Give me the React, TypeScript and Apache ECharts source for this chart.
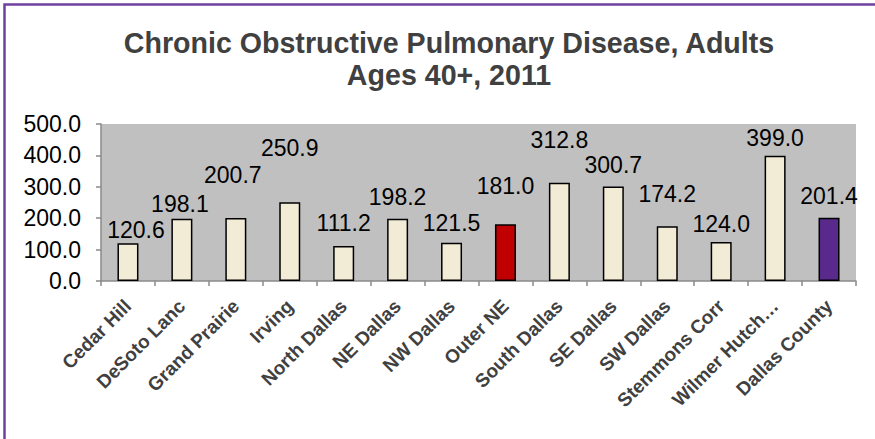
import React, { useEffect, useRef } from "react";
import * as echarts from "echarts";

const titleLines = ["Chronic Obstructive Pulmonary Disease, Adults", "Ages 40+, 2011"];

const categories = [
  "Cedar Hill",
  "DeSoto Lanc",
  "Grand Prairie",
  "Irving",
  "North Dallas",
  "NE Dallas",
  "NW Dallas",
  "Outer NE",
  "South Dallas",
  "SE Dallas",
  "SW Dallas",
  "Stemmons Corr",
  "Wilmer Hutch…",
  "Dallas County",
];

const rates = [120.6, 198.1, 200.7, 250.9, 111.2, 198.2, 121.5, 181.0, 312.8, 300.7, 174.2, 124.0, 399.0, 201.4];

const yTicks = [0, 100, 200, 300, 400, 500];

// label placement as in the reference: centre height above bar top, and sideways shift (px)
const labelRaise = [13, 15, 43, 54, 23, 22, 20, 38, 43, 22, 32, 18, 18, 22];
const labelShift = [8, -2, -3, 0, 0, 0, 0, 0, 0, 0, 0, 0, 0, 0];

const CREAM = "#F2EBD6";
const RED = "#C00000";
const PURPLE = "#59298C";

function barColor(name: string): string {
  if (name === "Outer NE") return RED;
  if (name === "Dallas County") return PURPLE;
  return CREAM;
}

export default function App() {
  const ref = useRef<HTMLDivElement>(null);

  useEffect(() => {
    document.body.style.margin = "0";
    if (!ref.current) return;
    const chart = echarts.init(ref.current, undefined, { renderer: "svg" });
    const LABEL_FONT = 23;

    chart.setOption({
      animation: false,
      backgroundColor: "#FFFFFF",
      title: {
        text: titleLines.join("\n"),
        left: 444,
        textAlign: "center",
        top: 22,
        textStyle: {
          fontFamily: "Liberation Sans, Arial, sans-serif",
          fontSize: 28.6,
          fontWeight: "bold",
          color: "#404040",
          lineHeight: 32,
        },
      },
      grid: {
        left: 101,
        right: 19,
        top: 124,
        bottom: 158,
        show: true,
        backgroundColor: "#C0C0C0",
        borderWidth: 0,
      },
      xAxis: {
        type: "category",
        data: categories,
        boundaryGap: true,
        axisLine: { show: true, lineStyle: { color: "#8A8A8A", width: 1.5 } },
        axisTick: { show: true, alignWithLabel: false, length: 5, lineStyle: { color: "#8A8A8A", width: 1.5 } },
        axisLabel: {
          interval: 0,
          rotate: 45,
          margin: 22,
          fontFamily: "Liberation Sans, Arial, sans-serif",
          fontSize: 19,
          fontWeight: "bold",
          color: "#404040",
        },
        splitLine: { show: false },
      },
      yAxis: {
        type: "value",
        min: yTicks[0],
        max: yTicks[yTicks.length - 1],
        interval: 100,
        axisLine: { show: true, lineStyle: { color: "#8A8A8A", width: 1.5 } },
        axisTick: { show: true, inside: false, length: 5, lineStyle: { color: "#8A8A8A", width: 1.5 } },
        axisLabel: {
          margin: 20,
          fontFamily: "Liberation Sans, Arial, sans-serif",
          fontSize: 23,
          color: "#000000",
          formatter: (v: number) => v.toFixed(1),
        },
        splitLine: { show: false },
      },
      series: [
        {
          type: "bar",
          barWidth: 21,
          data: rates.map((v, i) => ({
            value: v,
            itemStyle: {
              color: barColor(categories[i]),
              borderColor: "#000000",
              borderWidth: 1.5,
            },
            label: {
              show: true,
              position: "top",
              distance: labelRaise[i] - LABEL_FONT / 2,
              offset: [labelShift[i], 0],
            },
          })),
          label: {
            show: true,
            position: "top",
            fontFamily: "Liberation Sans, Arial, sans-serif",
            fontSize: LABEL_FONT,
            lineHeight: LABEL_FONT,
            color: "#000000",
            formatter: (p: any) => Number(p.value).toFixed(1),
          },
        },
      ],
      graphic: [
        {
          type: "polyline",
          silent: true,
          shape: {
            points: [
              [4.5, 439],
              [4.5, 4.5],
              [875, 4.5],
            ],
          },
          style: { stroke: "#7040A0", lineWidth: 2.5, fill: null },
        },
      ],
    });

    return () => {
      chart.dispose();
    };
  }, []);

  return (
    <div
      ref={ref}
      style={{ position: "fixed", left: 0, top: 0, width: 875, height: 439 }}
    />
  );
}
